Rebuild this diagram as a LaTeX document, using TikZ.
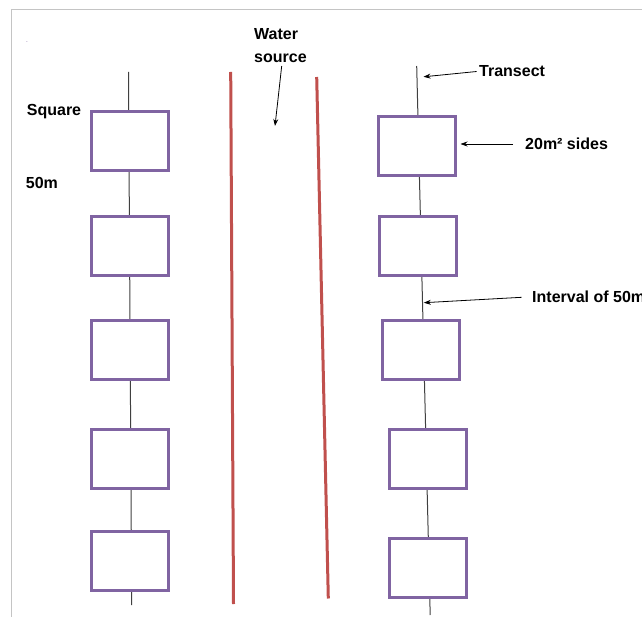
\documentclass[tikz,border=0pt]{standalone}
\usepackage{fontspec}
\setmainfont{Liberation Sans}
\usetikzlibrary{arrows.meta}
\definecolor{boxpurple}{HTML}{8064A2}
\definecolor{riverred}{HTML}{C0504D}
\definecolor{framegray}{HTML}{C4C4C4}
\tikzset{
  quad/.style={draw=boxpurple, line width=3pt, fill=white, inner sep=0pt,
    minimum width=77pt, minimum height=59pt},
  transect/.style={draw=black!75, line width=1pt},
  river/.style={draw=riverred, line width=3pt},
  lbl/.style={font=\bfseries\fontsize{16}{23}\selectfont, inner sep=0pt, text=black},
  pointer/.style={draw=black, line width=0.8pt, -{Stealth[length=7pt,width=5pt]}}
}
\begin{document}
\begin{tikzpicture}[x=1pt,y=-1pt]
\useasboundingbox (0,0) rectangle (642,617);
\clip (0,0) rectangle (642,617);
% frame
\draw[framegray, line width=1pt] (11,617) -- (11,10) -- (642,10);
\node[font=\fontsize{8}{8}\selectfont, text=boxpurple!70, inner sep=0pt] (dot) at (27,42) {.};

% left transect
\coordinate (Ltop) at (128.5,72);
\coordinate (Lbot) at (131.7,605);
\draw[transect] (Ltop) -- (Lbot);
\node[quad] (L1) at (129.7,141) {};
\node[quad] (L2) at (129.7,246) {};
\node[quad] (L3) at (129.5,350) {};
\node[quad] (L4) at (129.5,459) {};
\node[quad] (L5) at (129.5,560.5) {};

% right transect
\coordinate (Rtop) at (416.7,66);
\coordinate (Rbot) at (430.2,615);
\draw[transect] (Rtop) -- (Rbot);
\node[quad] (R1) at (417,146.5) {};
\node[quad] (R2) at (417.5,246) {};
\node[quad] (R3) at (421.2,350) {};
\node[quad] (R4) at (428.3,459) {};
\node[quad] (R5) at (428.3,568) {};

% water source banks
\coordinate (A1) at (230.7,72);
\coordinate (A2) at (233.5,604);
\coordinate (B1) at (316.7,77);
\coordinate (B2) at (328.3,598.5);
\draw[river] (A1) -- (A2);
\draw[river] (B1) -- (B2);

% labels
\node[lbl, anchor=west] (sq) at (26.7,112) {Square};
\node[lbl, anchor=west] (fifty) at (25.7,183) {50m};
\node[lbl, anchor=north west, align=left] (water) at (254,28) {Water\\source};
\node[lbl, anchor=west] (tr) at (479,71) {Transect};
\node[lbl, anchor=west] (sides) at (525,144) {20m² sides};
\node[lbl, anchor=west] (intv) at (532,297) {Interval of 50m};

% pointers
\coordinate (wS) at (281.7,66);
\coordinate (wE) at (275,126);
\draw[pointer] (wS) -- (wE);
\coordinate (tS) at (476.7,71.5);
\coordinate (tE) at (423.5,76.8);
\draw[pointer] (tS) -- (tE);
\coordinate (sS) at (513,144);
\coordinate (sE) at (460.5,144);
\draw[pointer] (sS) -- (sE);
\coordinate (iS) at (521.7,297.3);
\coordinate (iE) at (423.8,302.7);
\draw[pointer] (iS) -- (iE);
\end{tikzpicture}
\end{document}
